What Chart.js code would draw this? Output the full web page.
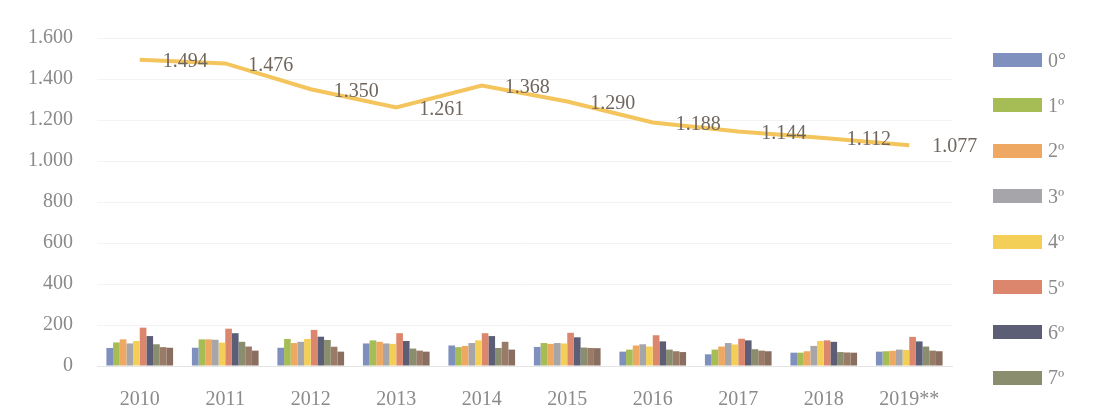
<!DOCTYPE html>
<html>
<head>
<meta charset="utf-8">
<script src="https://cdn.jsdelivr.net/npm/chart.js@4/dist/chart.umd.min.js"></script>
<style>
  body { margin:0; background:#fff; }
  #wrap { position:relative; width:1111px; height:420px; }
  #legend { position:absolute; left:993px; top:0; font-family:"Liberation Serif", serif; font-size:20px; color:#8a8a8a; }
  .lg-item { position:absolute; left:0; height:20px; display:flex; align-items:center; white-space:nowrap; }
  .lg-box { width:49px; height:14px; margin-right:6px; }
</style>
</head>
<body>
<div id="wrap">
  <canvas id="chart" width="1111" height="420"></canvas>
  <div id="legend"></div>
</div>
<script>
const years = ["2010","2011","2012","2013","2014","2015","2016","2017","2018","2019**"];
const grades = ["0°","1º","2º","3º","4º","5º","6º","7º","8º","9º"];
const gradeColors = ["#7f90be","#a6bd55","#efa862","#a5a5aa","#f3cf58","#dd866e","#5c5e76","#8a8e6e","#9a7b67","#8a6f60"];

// one row per grade, one value per year
const g0 = [88, 89, 89, 110, 100, 93, 70, 57, 65, 70];
const g1 = [115, 130, 132, 125, 92, 112, 80, 80, 65, 72];
const g2 = [130, 130, 112, 118, 98, 108, 100, 95, 72, 74];
const g3 = [110, 128, 118, 110, 112, 112, 106, 112, 98, 80];
const g4 = [122, 114, 132, 108, 125, 110, 95, 105, 122, 78];
const g5 = [187, 182, 176, 160, 160, 162, 150, 133, 125, 142];
const g6 = [146, 160, 143, 122, 146, 140, 120, 125, 118, 120];
const g7 = [106, 118, 127, 85, 88, 90, 80, 82, 68, 95];
const g8 = [92, 95, 94, 75, 118, 88, 72, 75, 66, 75];
const g9 = [89, 75, 70, 70, 80, 87, 68, 72, 65, 72];
const gradeValues = [g0, g1, g2, g3, g4, g5, g6, g7, g8, g9];

const totals = [1494, 1476, 1350, 1261, 1368, 1290, 1188, 1144, 1112, 1077];

const yTicks = { min: 0, max: 1600, step: 200 };
const legendShown = 8; // only 0°..7º are visible in the legend

function fmt(v) {
  return String(v).replace(/\B(?=(\d{3})+(?!\d))/g, ".");
}

const serif = "'Liberation Serif', 'Times New Roman', serif";

const datasets = grades.map((g, i) => ({
  type: "bar",
  label: g,
  data: gradeValues[i],
  backgroundColor: gradeColors[i],
  borderWidth: 0,
  categoryPercentage: 0.78,
  barPercentage: 1.0,
  order: 1
}));

datasets.push({
  type: "line",
  label: "Total",
  data: totals,
  borderColor: "#f3c55c",
  borderWidth: 4,
  pointRadius: 0,
  tension: 0,
  fill: false,
  order: 0
});

const totalLabels = {
  id: "totalLabels",
  afterDatasetsDraw(chart) {
    const idx = chart.data.datasets.length - 1;
    const meta = chart.getDatasetMeta(idx);
    const ctx = chart.ctx;
    ctx.save();
    ctx.font = "20px " + serif;
    ctx.fillStyle = "#6f665e";
    ctx.textAlign = "left";
    ctx.textBaseline = "middle";
    meta.data.forEach((pt, i) => {
      ctx.fillText(fmt(totals[i]), pt.x + 23, pt.y + 2);
    });
    ctx.restore();
  }
};

new Chart(document.getElementById("chart"), {
  data: { labels: years, datasets },
  options: {
    responsive: false,
    animation: false,
    layout: { padding: { left: 0, top: 38, right: 159, bottom: 0 } },
    plugins: { legend: { display: false }, tooltip: { enabled: false } },
    scales: {
      x: {
        grid: { display: false, drawTicks: false },
        border: { display: true, color: "#e4e4e4" },
        ticks: { color: "#8a8a8a", font: { family: serif, size: 20 }, padding: 22 },
        afterFit(scale) { scale.height = 54; }
      },
      y: {
        min: yTicks.min,
        max: yTicks.max,
        grid: { color: "#f3f3f3", drawTicks: false },
        border: { display: false },
        ticks: {
          stepSize: yTicks.step,
          color: "#8a8a8a",
          font: { family: serif, size: 20 },
          padding: 24,
          callback: v => fmt(v)
        },
        afterFit(scale) { scale.width = 97; }
      }
    }
  },
  plugins: [totalLabels]
});

// legend drawn as html, items spaced like the reference
const legendEl = document.getElementById("legend");
grades.slice(0, legendShown).forEach((g, i) => {
  const item = document.createElement("div");
  item.className = "lg-item";
  item.style.top = (50 + i * 45.4) + "px";
  item.innerHTML = '<span class="lg-box" style="background:' + gradeColors[i] + '"></span>' + g;
  legendEl.appendChild(item);
});
</script>
</body>
</html>
